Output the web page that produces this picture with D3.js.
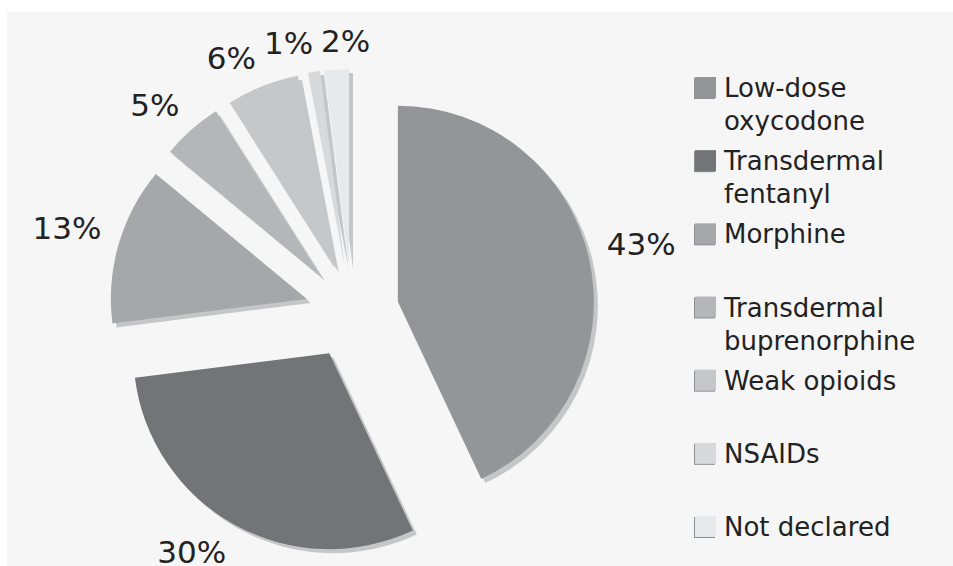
<!DOCTYPE html>
<html>
<head>
<meta charset="utf-8">
<script src="https://cdn.jsdelivr.net/npm/d3@7"></script>
<style>
  body { margin: 0; background: #fff; }
  svg text { font-family: "DejaVu Sans", Verdana, sans-serif; fill: #222; }
</style>
</head>
<body>
<div id="chart"></div>
<script>
/* exploded pie of analgesic use */

const categories = ["Low-dose oxycodone", "Transdermal fentanyl", "Morphine",
    "Transdermal buprenorphine", "Weak opioids", "NSAIDs", "Not declared"];
const legendLines = [["Low-dose", "oxycodone"], ["Transdermal", "fentanyl"], ["Morphine"],
    ["Transdermal", "buprenorphine"], ["Weak opioids"], ["NSAIDs"], ["Not declared"]];
const values = [43, 30, 13, 5, 6, 1, 2];
const colors = ["#949599", "#737478", "#a6a7aa", "#b5b6b9", "#c6c7c9", "#d8d9db", "#e8e9eb"];

const width = 953, height = 566;
const cx = 352, cy = 312, radius = 196, explode = 47, labelR = 261;

const svg = d3.select("#chart")
    .append("svg")
    .attr("width", width)
    .attr("height", height);

svg.append("rect") // grey panel
    .attr("x", 7).attr("y", 12)
    .attr("width", width - 7).attr("height", height - 12)
    .attr("fill", "#f6f6f6");

const pie = d3.pie().sort(null).value(d => d.value);
const arcs = pie(values.map((v, i) => ({value: v, i: i})));
const arc = d3.arc().innerRadius(0).outerRadius(radius);

const mid = d => (d.startAngle + d.endAngle) / 2;
const off = d => [Math.sin(mid(d)) * explode, -Math.cos(mid(d)) * explode];

const g = svg.append("g").attr("transform", `translate(${cx},${cy})`);

g.selectAll(".shadow") // soft shadow under each slice
    .data(arcs)
    .join("path")
    .attr("class", "shadow")
    .attr("d", arc)
    .attr("fill", "#c5c6c8")
    .attr("transform", d => `translate(${off(d)[0] + 4},${off(d)[1] + 4})`);

g.selectAll(".slice")
    .data(arcs)
    .join("path")
    .attr("class", "slice")
    .attr("d", arc)
    .attr("fill", d => colors[d.data.i])
    .attr("transform", d => `translate(${off(d)[0]},${off(d)[1]})`);

// labels: the box corner nearest the pie sits on the bisector at labelR
const fs = 31, capH = fs * 0.72;
const lbl = g.selectAll(".lbl")
    .data(arcs)
    .join("text")
    .attr("class", "lbl")
    .attr("text-anchor", "middle")
    .attr("dy", "0.36em")
    .style("font-size", fs + "px")
    .text(d => d.value + "%");

let boxes = [];
lbl.each(function(d) {
    const w = this.getComputedTextLength();
    const s = Math.sin(mid(d)), c = -Math.cos(mid(d));
    boxes.push({w: w,
        x: s * labelR + (s >= 0 ? w / 2 : -w / 2),
        y: c * labelR + (c >= 0 ? capH / 2 : -capH / 2)});
});
// greedy: a later label that overlaps an earlier one moves sideways
for (let b = 1; b < boxes.length; b++) {
    for (let a = 0; a < b; a++) {
        const A = boxes[a], B = boxes[b];
        const need = (A.w + B.w) / 2 + 8;
        const dx = B.x - A.x;
        if (Math.abs(dx) < need && Math.abs(B.y - A.y) < capH + 4) {
            B.x = A.x + need * (dx >= 0 ? 1 : -1);
        }
    }
}
lbl.attr("x", (d, i) => boxes[i].x)
    .attr("y", (d, i) => boxes[i].y);

// legend
const ly = d3.scalePoint().domain(categories).range([77, 516]);

const item = svg.selectAll(".legend")
    .data(categories)
    .join("g")
    .attr("class", "legend")
    .attr("transform", d => `translate(695,${ly(d)})`);

item.append("rect")
    .attr("x", -1).attr("y", 1)
    .attr("width", 21).attr("height", 21)
    .attr("fill", "#8e8f92");

item.append("rect")
    .attr("width", 21).attr("height", 21)
    .attr("fill", (d, i) => colors[i]);

item.append("text")
    .attr("x", 29)
    .style("font-size", "26px")
    .selectAll("tspan")
    .data((d, i) => legendLines[i])
    .join("tspan")
    .attr("x", 29)
    .attr("y", (d, j) => 20 + j * 33)
    .text(d => d);
</script>
</body>
</html>
